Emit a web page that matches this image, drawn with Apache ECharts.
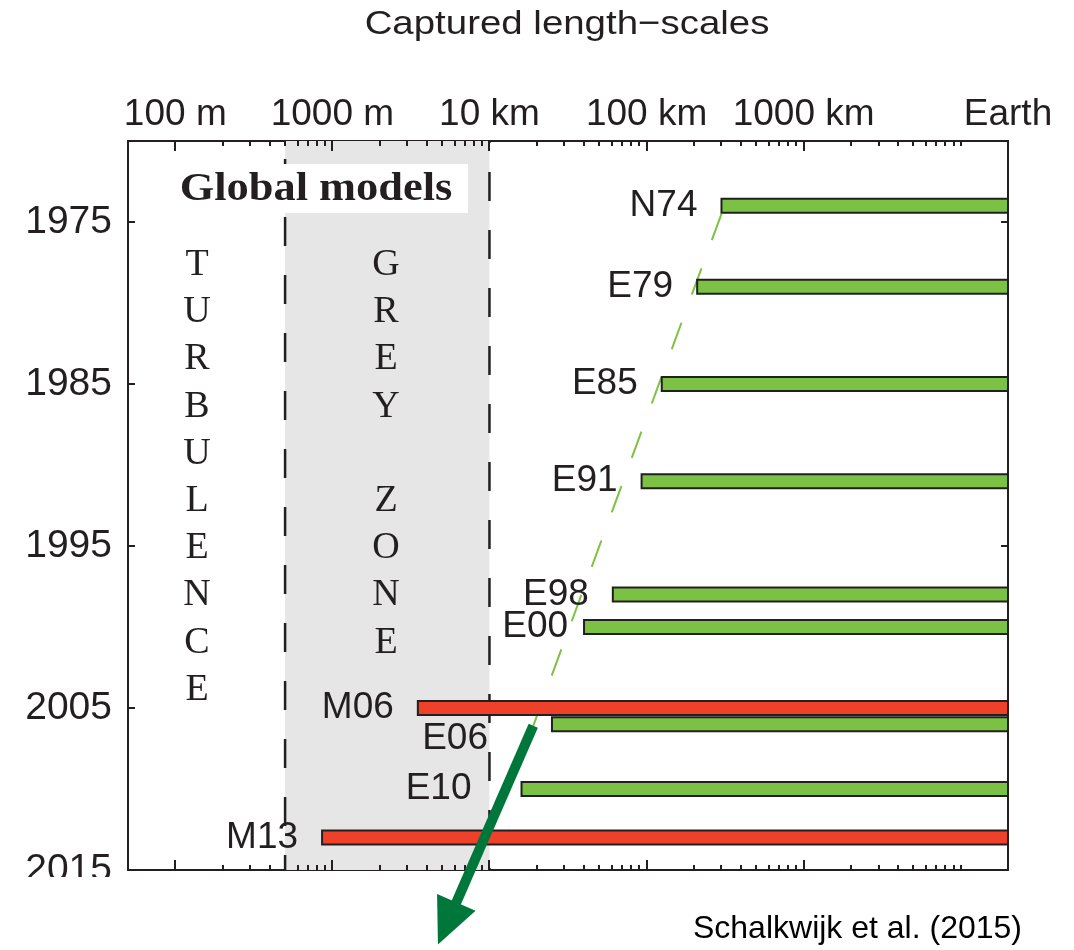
<!DOCTYPE html>
<html>
<head>
<meta charset="utf-8">
<script src="https://cdn.jsdelivr.net/npm/echarts@6/dist/echarts.min.js"></script>
<style>
html,body{margin:0;padding:0;background:#ffffff;}
#chart{width:1074px;height:950px;}
</style>
</head>
<body>
<div id="chart"></div>
<script>
// ---------------- data ----------------
const models = ['N74', 'E79', 'E85', 'E91', 'E98', 'E00', 'M06', 'E06', 'E10', 'M13'];
const years = [1974, 1979, 1985, 1991, 1998, 2000, 2005, 2006, 2010, 2013];
// smallest captured length-scale (metres); bars run up to the Earth scale
const smallestScale = [300000, 210000, 125000, 93000, 61000, 40000, 3500, 25000, 16000, 860];
const modelKind = ['global', 'global', 'global', 'global', 'global', 'global', 'les', 'global', 'global', 'les'];

const earthScale = 20000000;
const xAxisMin = 50;
const yearMin = 1970;
const yearMax = 2015;

const xTickLabels = ['100 m', '1000 m', '10 km', '100 km', '1000 km', 'Earth'];
const xTickLabelValues = [100, 1000, 10000, 100000, 1000000, 20000000];
const majorTicks = [100, 1000, 10000, 100000, 1000000];
const minorTicks = [
  200, 300, 400, 500, 600, 700, 800, 900,
  2000, 3000, 4000, 5000, 6000, 7000, 8000, 9000,
  20000, 30000, 40000, 50000, 60000, 70000, 80000, 90000,
  200000, 300000, 400000, 500000, 600000, 700000, 800000, 900000,
  2000000, 3000000, 4000000, 5000000, 6000000, 7000000, 8000000, 9000000, 10000000];
const yearTicks = [1975, 1985, 1995, 2005, 2015];

const greyZone = [500, 10000];
const trendLine = [[300000, 1974.5], [19000, 2006.1]];
const trendArrow = [19000, 2006.1, 4700, 2019.6];

// ---------------- styling ----------------
const INK = '#231f20';
const SANS = 'Liberation Sans, Arial, Helvetica, sans-serif';
const SERIF = 'Liberation Serif, Times New Roman, serif';
const kindColor = { global: '#7bc143', les: '#ef4129' };
const labelShift = { E00: [8, 0], E06: [-40, 15], E10: [-26, 0] };
const MAJOR_LEN = 10, MINOR_LEN = 5;

function labelFor(v) {
  for (let i = 0; i < xTickLabelValues.length; i++) {
    if (Math.abs(Math.log10(v) - Math.log10(xTickLabelValues[i])) < 1e-6) return xTickLabels[i];
  }
  return '';
}

const allTicks = majorTicks.concat(minorTicks);

const chart = echarts.init(document.getElementById('chart'), null, { renderer: 'canvas' });

const barData = models.map((m, i) => [smallestScale[i], years[i], i]);

const option = {
  animation: false,
  backgroundColor: '#ffffff',
  grid: { left: 128, right: 66, top: 141, bottom: 80, containLabel: false },
  xAxis: [
    {
      type: 'log', logBase: 10, min: xAxisMin, max: earthScale, position: 'top',
      axisLine: { show: true, lineStyle: { color: INK, width: 2 } },
      axisTick: { show: false },
      minorTick: { show: false },
      splitLine: { show: false },
      axisLabel: {
        show: true, margin: 8, color: INK, fontFamily: SANS, fontSize: 37,
        showMinLabel: true, showMaxLabel: true,
        formatter: v => labelFor(v)
      }
    },
    {
      type: 'log', logBase: 10, min: xAxisMin, max: earthScale, position: 'bottom',
      axisLine: { show: true, lineStyle: { color: INK, width: 2 } },
      axisTick: { show: false }, axisLabel: { show: false },
      splitLine: { show: false }, minorTick: { show: false }
    }
  ],
  yAxis: [
    {
      type: 'value', inverse: true, min: yearMin, max: yearMax, interval: 5, position: 'left',
      axisLine: { show: true, lineStyle: { color: INK, width: 2 } },
      axisTick: { show: true, inside: true, length: 7, customValues: yearTicks, lineStyle: { color: INK, width: 2 } },
      axisLabel: { show: true, margin: 16, color: INK, fontFamily: SANS, fontSize: 39, customValues: yearTicks,
        formatter: v => String(v) },
      splitLine: { show: false }
    },
    {
      type: 'value', inverse: true, min: yearMin, max: yearMax, interval: 5, position: 'right',
      axisLine: { show: true, lineStyle: { color: INK, width: 2 } },
      axisTick: { show: true, inside: true, length: 7, customValues: yearTicks, lineStyle: { color: INK, width: 2 } },
      axisLabel: { show: false },
      splitLine: { show: false }
    }
  ],
  series: [
    {
      // grey zone band with dashed borders
      type: 'custom', z: 1, xAxisIndex: 0, yAxisIndex: 0, silent: true,
      data: [[greyZone[0], yearMin, greyZone[1], yearMax]],
      renderItem: function (params, api) {
        const p0 = api.coord([api.value(0), api.value(1)]);
        const p1 = api.coord([api.value(2), api.value(3)]);
        return {
          type: 'group', children: [
            { type: 'rect', shape: { x: p0[0], y: p0[1], width: p1[0] - p0[0], height: p1[1] - p0[1] },
              style: { fill: '#e6e6e6' } },
            { type: 'line', shape: { x1: p0[0], y1: p0[1], x2: p0[0], y2: p1[1] },
              style: { stroke: INK, lineWidth: 2.5, lineDash: [29, 29], lineDashOffset: 40 } },
            { type: 'line', shape: { x1: p1[0], y1: p0[1], x2: p1[0], y2: p1[1] },
              style: { stroke: INK, lineWidth: 2.5, lineDash: [29, 29], lineDashOffset: 27 } }
          ]
        };
      }
    },
    {
      // log tick marks on top and bottom frame edges
      type: 'custom', z: 6, xAxisIndex: 0, yAxisIndex: 0, silent: true,
      data: allTicks.map(v => [v, yearMin]),
      renderItem: function (params, api) {
        const v = allTicks[params.dataIndex];
        const len = params.dataIndex < majorTicks.length ? MAJOR_LEN : MINOR_LEN;
        const top = api.coord([v, yearMin]);
        const bot = api.coord([v, yearMax]);
        const x = Math.round(top[0]);
        return {
          type: 'group', children: [
            { type: 'rect', shape: { x: x - 1, y: top[1], width: 2, height: len }, style: { fill: INK } },
            { type: 'rect', shape: { x: x - 1, y: bot[1] - len, width: 2, height: len }, style: { fill: INK } }
          ]
        };
      }
    },
    {
      // dashed trend line
      type: 'line', z: 3, xAxisIndex: 0, yAxisIndex: 0, silent: true,
      data: trendLine, showSymbol: false, symbol: 'none',
      lineStyle: { color: '#7dc242', width: 2, type: [28, 30] }
    },
    {
      // model bars + labels
      type: 'custom', z: 5, xAxisIndex: 0, yAxisIndex: 0, silent: true,
      data: barData,
      renderItem: function (params, api) {
        const i = api.value(2);
        const start = api.coord([api.value(0), api.value(1)]);
        const end = api.coord([earthScale, api.value(1)]);
        const h = 14;
        const shift = labelShift[models[i]] || [0, 0];
        return {
          type: 'group', children: [
            { type: 'rect', shape: { x: start[0], y: start[1] - h / 2, width: end[0] - start[0], height: h },
              style: { fill: kindColor[modelKind[i]], stroke: INK, lineWidth: 2 } },
            { type: 'text', x: start[0] - 24 + shift[0], y: start[1] + shift[1],
              style: { text: models[i], align: 'right', verticalAlign: 'middle', fontSize: 37, fontFamily: SANS, fill: INK } }
          ]
        };
      }
    },
    {
      // trend arrow extending beyond the plot
      type: 'custom', z: 20, xAxisIndex: 0, yAxisIndex: 0, silent: true, clip: false,
      data: [trendArrow],
      renderItem: function (params, api) {
        const p0 = api.coord([api.value(0), api.value(1)]);
        const p1 = api.coord([api.value(2), api.value(3)]);
        const dx = p1[0] - p0[0], dy = p1[1] - p0[1];
        const L = Math.sqrt(dx * dx + dy * dy);
        const ux = dx / L, uy = dy / L;
        const headLen = 46, headHalf = 21;
        const bx = p1[0] - ux * headLen, by = p1[1] - uy * headLen;
        const nx = -uy, ny = ux;
        return {
          type: 'group', children: [
            { type: 'line', shape: { x1: p0[0], y1: p0[1], x2: bx + ux * 2, y2: by + uy * 2 },
              style: { stroke: '#00773a', lineWidth: 10, lineCap: 'butt' } },
            { type: 'polygon', shape: { points: [[p1[0], p1[1]], [bx + nx * headHalf, by + ny * headHalf], [bx - nx * headHalf, by - ny * headHalf]] },
              style: { fill: '#00773a' } }
          ]
        };
      }
    }
  ],
  graphic: [
    { type: 'text', x: 567, y: 25, z: 50, scaleX: 1.13,
      style: { text: 'Captured length\u2212scales', align: 'center', verticalAlign: 'middle', fontSize: 34, fontFamily: SANS, fill: INK } },
    { type: 'rect', z: 30, shape: { x: 165, y: 164, width: 303, height: 49 }, style: { fill: '#ffffff' } },
    { type: 'text', x: 316, y: 190, z: 31, scaleX: 1.11,
      style: { text: 'Global models', align: 'center', verticalAlign: 'middle', fontSize: 40, fontWeight: 'bold', fontFamily: SERIF, fill: INK } },
    { type: 'text', x: 197, y: 241.5, z: 31,
      style: { text: 'T\nU\nR\nB\nU\nL\nE\nN\nC\nE', align: 'center', verticalAlign: 'top', lineHeight: 47.2, fontSize: 38, fontFamily: SERIF, fill: INK } },
    { type: 'text', x: 386, y: 241.5, z: 31,
      style: { text: 'G\nR\nE\nY\n \nZ\nO\nN\nE', align: 'center', verticalAlign: 'top', lineHeight: 47.2, fontSize: 38, fontFamily: SERIF, fill: INK } },
    { type: 'rect', z: 100, shape: { x: 0, y: 877, width: 126, height: 73 }, style: { fill: '#ffffff' } },
    { type: 'text', x: 1022, y: 929, z: 50,
      style: { text: 'Schalkwijk et al. (2015)', align: 'right', verticalAlign: 'middle', fontSize: 32, fontFamily: SANS, fill: '#000000' } }
  ]
};

chart.setOption(option);
</script>
</body>
</html>
